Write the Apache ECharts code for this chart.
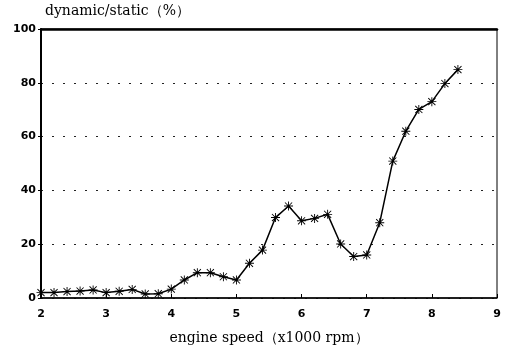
<!DOCTYPE html>
<html>
<head>
<meta charset="utf-8">
<script src="https://cdn.jsdelivr.net/npm/echarts@6/dist/echarts.min.js"></script>
<style>
  html, body { margin: 0; padding: 0; background: #fff; }
  #chart { width: 512px; height: 351px; }
</style>
</head>
<body>
<div id="chart"></div>
<script>
// engine speed (x1000 rpm)
const speeds = [2.0, 2.2, 2.4, 2.6, 2.8, 3.0, 3.2, 3.4, 3.6, 3.8, 4.0, 4.2, 4.4, 4.6, 4.8, 5.0,
  5.2, 5.4, 5.6, 5.8, 6.0, 6.2, 6.4, 6.6, 6.8, 7.0, 7.2, 7.4, 7.6, 7.8, 8.0, 8.2, 8.4];
// dynamic/static ratio (%)
const ratios = [2.0, 2.0, 2.4, 2.6, 3.0, 2.0, 2.5, 3.2, 1.5, 1.6, 3.3, 6.7, 9.4, 9.4, 7.9, 6.7,
  12.9, 17.8, 29.9, 34.2, 28.7, 29.6, 31.1, 20.1, 15.4, 16.0, 28.0, 50.9, 62.0, 70.1, 73.0, 79.7, 84.9];
const xTicks = [2, 3, 4, 5, 6, 7, 8, 9];
const yTicks = [0, 20, 40, 60, 80, 100];

const chart = echarts.init(document.getElementById('chart'));

// asterisk marker
const star = 'path://M0 9 L20 9 L20 11 L0 11 Z M9 0 L11 0 L11 20 L9 20 Z ' +
  'M1.4 2.8 L2.8 1.4 L18.6 17.2 L17.2 18.6 Z M17.2 1.4 L18.6 2.8 L2.8 18.6 L1.4 17.2 Z';

const tickFont = { color: '#000', fontFamily: 'DejaVu Sans', fontWeight: 'bold', fontSize: 11 };

chart.setOption({
  animation: false,
  backgroundColor: '#fff',
  grid: {
    left: 41, right: 15, top: 29, bottom: 53,
    show: true, borderColor: '#000', borderWidth: 1
  },
  xAxis: [{
    type: 'value',
    min: xTicks[0], max: xTicks[xTicks.length - 1], interval: 1,
    axisLine: { lineStyle: { color: '#000', width: 1.5 } },
    axisTick: { inside: true, length: 4, lineStyle: { color: '#000' } },
    axisLabel: Object.assign({ margin: 11 }, tickFont),
    splitLine: { show: false },
    name: 'engine speed（x1000 rpm）',
    nameLocation: 'middle',
    nameGap: 33,
    nameTextStyle: { color: '#000', fontFamily: 'DejaVu Serif', fontSize: 14 }
  }, {
    type: 'value', position: 'top',
    min: xTicks[0], max: xTicks[xTicks.length - 1], interval: 1,
    axisLine: { show: true, lineStyle: { color: '#000', width: 2.5 } },
    axisTick: { show: false }, axisLabel: { show: false }, splitLine: { show: false }
  }],
  yAxis: {
    type: 'value',
    min: yTicks[0], max: yTicks[yTicks.length - 1], interval: 20,
    axisLine: { show: true, lineStyle: { color: '#000', width: 2 } },
    axisTick: { show: true, length: 3, lineStyle: { color: '#000' } },
    axisLabel: Object.assign({ margin: 5 }, tickFont),
    splitLine: { show: true, lineStyle: { color: '#222', width: 1, type: [2, 9] } }
  },
  graphic: [{
    type: 'text', left: 45, top: 4,
    style: { text: 'dynamic/static（%）', fill: '#000', font: '14px "DejaVu Serif"' }
  }],
  series: [{
    type: 'line',
    xAxisIndex: 0,
    data: speeds.map((s, i) => [s, ratios[i]]),
    symbol: star,
    symbolSize: 9,
    showAllSymbol: true,
    lineStyle: { color: '#000', width: 1.5 },
    itemStyle: { color: '#000' }
  }]
});
</script>
</body>
</html>
